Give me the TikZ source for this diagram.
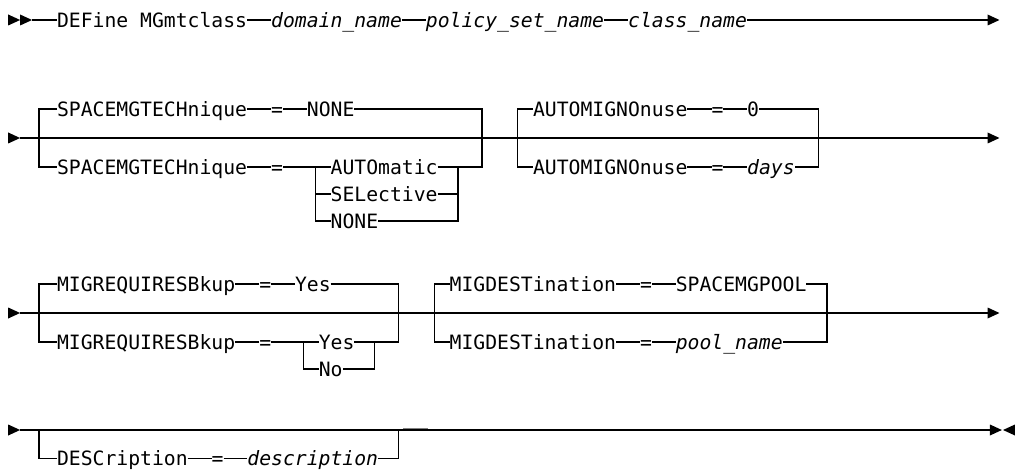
\documentclass[tikz,border=0pt]{standalone}
\usepackage{fontspec}
\newfontfamily\rrfont{DejaVu Sans Mono}[ItalicFont={DejaVu Sans Mono Oblique}]
\newcommand\rrsize{\fontsize{14.8pt}{16pt}\selectfont}
\tikzset{
  kw/.style={inner sep=0pt, outer sep=0pt, anchor=west, text height=10.8pt, text depth=0pt, font=\rrfont\rrsize},
  var/.style={kw, font=\rrfont\rrsize\itshape},
  rail/.style={line width=1pt, draw=black},
  tip/.style={fill=black, draw=none},
}
\begin{document}
\begin{tikzpicture}[x=0.75pt,y=-0.75pt]
\useasboundingbox (0,0) rectangle (1016,470);
\fill[white] (0,0) rectangle (1016,470);
\begin{scope}[x=8.925pt, xshift=7.05pt]
% ---------- row 1
\node[kw]  (r1a) at (4,20)  {DEFine MGmtclass};
\node[var] (r1b) at (22,20) {domain\_name};
\node[var] (r1c) at (35,20) {policy\_set\_name};
\node[var] (r1d) at (52,20) {class\_name};
\coordinate (r1s) at (1.9,20);
\coordinate (r1e) at (82.2,20);
\fill[tip] (0.9,20) -- (-0.1,14.5) -- (-0.1,25.5) -- cycle;
\fill[tip] (1.9,20) -- (0.9,14.5) -- (0.9,25.5) -- cycle;
\draw[rail] (r1s) -- (r1a.west) (r1a.east) -- (r1b.west) (r1b.east) -- (r1c.west)
            (r1c.east) -- (r1d.west) (r1d.east) -- (r1e);
\fill[tip] (83.2,20) -- (82.2,14.5) -- (82.2,25.5) -- cycle;
% ---------- row 2
\node[kw] (s1)  at (4,109)  {SPACEMGTECHnique};
\node[kw] (s1q) at (22,109) {=};
\node[kw] (s1v) at (25,109) {NONE};
\node[kw] (s2)  at (4,167)  {SPACEMGTECHnique};
\node[kw] (s2q) at (22,167) {=};
\node[kw] (s2a) at (27,167) {AUTOmatic};
\node[kw] (s2b) at (27,194) {SELective};
\node[kw] (s2c) at (27,221) {NONE};
\node[kw] (u1)  at (44,109) {AUTOMIGNOnuse};
\node[kw] (u1q) at (59,109) {=};
\node[kw] (u1v) at (62,109) {0};
\node[kw] (u2)  at (44,167) {AUTOMIGNOnuse};
\node[kw] (u2q) at (59,167) {=};
\node[var] (u2v) at (62,167) {days};
\coordinate (r2s) at (0.9,138);
\coordinate (r2e) at (82.2,138);
\fill[tip] (0.9,138) -- (-0.1,132.5) -- (-0.1,143.5) -- cycle;
\draw[rail] (r2s) -- (r2e);
\draw[rail] (s1.west) -| (2.5,167) -- (s2.west);
\draw[rail] (s1.east) -- (s1q.west) (s1q.east) -- (s1v.west);
\draw[rail] (s1v.east) -| (39.7,167) -- (37.7,167) |- (s2c.east);
\draw[rail] (s2a.east) -- (37.7,167) (s2b.east) -- (37.7,194);
\draw[rail] (s2.east) -- (s2q.west) (s2q.east) -- (25.7,167) -- (s2a.west)
            (25.7,167) |- (s2c.west) (25.7,194) -- (s2b.west);
\draw[rail] (u1.west) -| (42.7,167) -- (u2.west);
\draw[rail] (u1.east) -- (u1q.west) (u1q.east) -- (u1v.west) (u1v.east) -| (68.0,167) -- (u2v.east);
\draw[rail] (u2.east) -- (u2q.west) (u2q.east) -- (u2v.west);
\fill[tip] (83.2,138) -- (82.2,132.5) -- (82.2,143.5) -- cycle;
% ---------- row 3
\node[kw] (m1)  at (4,284)  {MIGREQUIRESBkup};
\node[kw] (m1q) at (21,284) {=};
\node[kw] (m1v) at (24,284) {Yes};
\node[kw] (m2)  at (4,342)  {MIGREQUIRESBkup};
\node[kw] (m2q) at (21,342) {=};
\node[kw] (m2a) at (26,342) {Yes};
\node[kw] (m2b) at (26,369) {No};
\node[kw] (g1)  at (37,284) {MIGDESTination};
\node[kw] (g1q) at (53,284) {=};
\node[kw] (g1v) at (56,284) {SPACEMGPOOL};
\node[kw] (g2)  at (37,342) {MIGDESTination};
\node[kw] (g2q) at (53,342) {=};
\node[var] (g2v) at (56,342) {pool\_name};
\coordinate (r3s) at (0.9,313);
\coordinate (r3e) at (82.2,313);
\fill[tip] (0.9,313) -- (-0.1,307.5) -- (-0.1,318.5) -- cycle;
\draw[rail] (r3s) -- (r3e);
\draw[rail] (m1.west) -| (2.5,342) -- (m2.west);
\draw[rail] (m1.east) -- (m1q.west) (m1q.east) -- (m1v.west)
            (m1v.east) -| (32.7,342) -- (30.7,342) |- (m2b.east);
\draw[rail] (m2a.east) -- (30.7,342);
\draw[rail] (m2.east) -- (m2q.west) (m2q.east) -- (24.7,342) -- (m2a.west)
            (24.7,342) |- (m2b.west);
\draw[rail] (g1.west) -| (35.7,342) -- (g2.west);
\draw[rail] (g1.east) -- (g1q.west) (g1q.east) -- (g1v.west) (g1v.east) -| (68.7,342) -- (g2v.east);
\draw[rail] (g2.east) -- (g2q.west) (g2q.east) -- (g2v.west);
\fill[tip] (83.2,313) -- (82.2,307.5) -- (82.2,318.5) -- cycle;
% ---------- row 4
\node[kw]  (c1)  at (4,458.5)  {DESCription};
\node[kw]  (c1q) at (17,458.5) {=};
\node[var] (c1v) at (20,458.5) {description};
\coordinate (r4s) at (0.9,430);
\coordinate (r4e) at (82.4,430);
\fill[tip] (0.9,430) -- (-0.1,424.5) -- (-0.1,435.5) -- cycle;
\draw[line width=1pt, draw=gray] (33.1,428.4) -- (35.2,428.4);
\draw[rail] (r4s) -- (r4e);
\draw[rail] (2.5,430) |- (c1.west);
\draw[rail] (c1.east) -- (c1q.west) (c1q.east) -- (c1v.west) (c1v.east) -| (32.7,430);
\fill[tip] (83.4,430) -- (82.4,424.5) -- (82.4,435.5) -- cycle;
\fill[tip] (83.5,430) -- (84.5,424.5) -- (84.5,435.5) -- cycle;
\end{scope}
\end{tikzpicture}
\end{document}
